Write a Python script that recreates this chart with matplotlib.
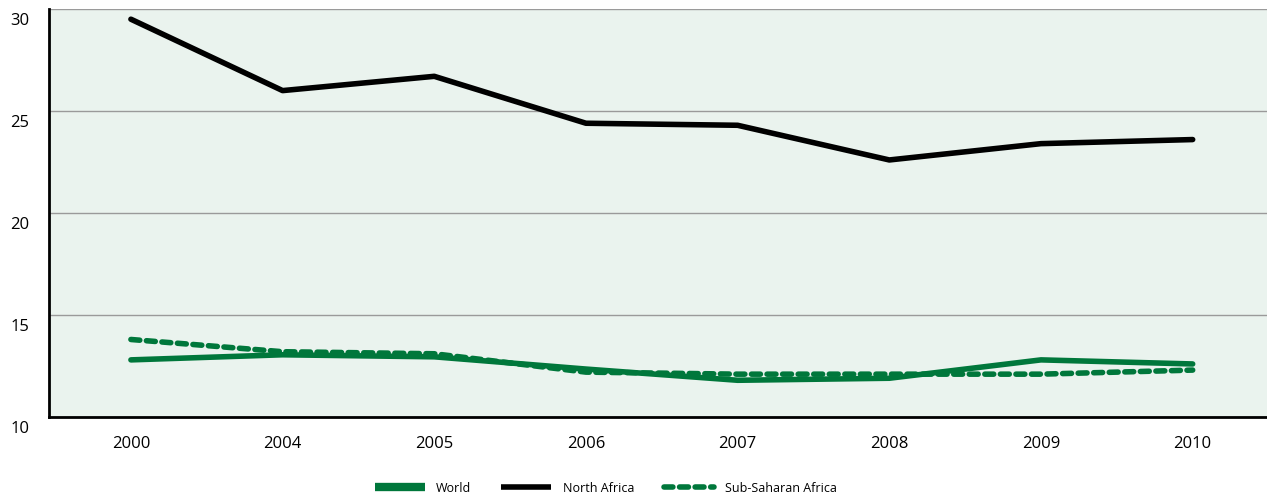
import numpy as np
import matplotlib.pyplot as plt
import matplotlib.transforms as mtransforms

# данные
years = ['2000', '2004', '2005', '2006', '2007', '2008', '2009', '2010']
world = [12.8, 13.05, 12.95, 12.35, 11.8, 11.9, 12.8, 12.6]
north_africa = [29.5, 26.0, 26.7, 24.4, 24.3, 22.6, 23.4, 23.6]
sub_saharan = [13.8, 13.2, 13.1, 12.2, 12.1, 12.1, 12.1, 12.3]

green = '#00773B'
plt.rcParams['font.family'] = ['Open Sans', 'DejaVu Sans']

fig = plt.figure(figsize=(12.67, 4.97), dpi=100)
ax = fig.add_axes([49 / 1267, 1 - 417 / 497, (1267 - 49) / 1267, (417 - 9) / 497])
ax.set_facecolor('#EAF3EE')

x = np.arange(len(years))
ax.plot(x, world, color=green, lw=4, solid_capstyle='round', label='World')
ax.plot(x, north_africa, color='black', lw=4, solid_capstyle='round', label='North Africa')
ax.plot(x, sub_saharan, color=green, lw=4, ls=(0, (1.6, 1.2)), dash_capstyle='round',
        label='Sub-Saharan Africa')

ax.set_xlim(-0.54, 7.49)
ax.set_ylim(10, 30)
ax.set_yticks([10, 15, 20, 25, 30])
ax.set_xticks(x)
ax.set_xticklabels(years)
ax.grid(axis='y', color='#9a9a9a', lw=1)
ax.set_axisbelow(True)

for s in ['top', 'right']:
    ax.spines[s].set_visible(False)
for s in ['left', 'bottom']:
    ax.spines[s].set_linewidth(2)
    ax.spines[s].set_color('black')

ax.tick_params(length=0, labelsize=12)
ax.tick_params(axis='x', pad=14)
ax.tick_params(axis='y', pad=14)
offset = mtransforms.ScaledTranslation(0, -3 / 72, fig.dpi_scale_trans)
for lab in ax.get_yticklabels():
    lab.set_verticalalignment('top')
    lab.set_transform(lab.get_transform() + offset)

leg = fig.legend(loc='center', ncol=3, frameon=False, fontsize=9,
                 bbox_to_anchor=(606 / 1267, 1 - 488 / 497), handlelength=4.0,
                 columnspacing=2.4, handletextpad=0.9)
for h in leg.get_lines():
    h.set_solid_capstyle('butt')
leg.get_lines()[0].set_linewidth(6)

plt.savefig('out.png', dpi=100)
